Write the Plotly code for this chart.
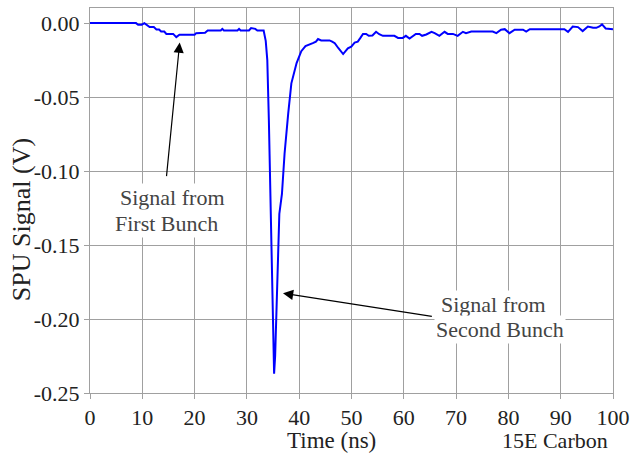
import plotly.graph_objects as go

# Time (ns)
time_ns = [0, 8.8, 9.2, 9.9, 10.4, 10.9, 11.4, 12.2, 12.7, 13.2, 13.6, 14.2, 14.6, 15.9, 16.5, 17.1,
           20.0, 20.3, 22.0, 22.5, 25.0, 25.3, 25.6, 28.2, 28.5, 28.8, 30.4, 30.8, 31.6, 32.0, 33.2,
           33.6, 33.9, 34.2, 34.5, 34.7, 35.0, 35.2, 35.4, 35.6, 35.9, 36.2, 36.7, 37.2, 37.9, 38.5,
           39.5, 40.4, 41.2, 41.7, 42.6, 43.2, 43.6, 44.2, 45.8, 46.3, 46.8, 47.5, 48.4, 49.3, 49.96,
           50.6, 51.2, 51.7, 52.2, 52.8, 53.3, 54.0, 54.7, 55.3, 56.0, 58.2, 58.9, 59.8, 60.4, 61.1,
           61.7, 62.3, 63.0, 63.5, 64.3, 65.3, 65.9, 66.8, 67.8, 68.4, 69.4, 70.3, 71.3, 71.9, 72.9,
           77.0, 77.7, 78.6, 79.3, 80.2, 81.2, 82.8, 83.4, 84.1, 90.7, 91.4, 92.3, 93.3, 94.2, 95.2,
           96.2, 96.8, 97.4, 97.9, 98.6, 100]
# SPU signal (V)
signal_v = [0, 0, -0.0011, -0.0011, 0.0, -0.0011, -0.0027, -0.0027, -0.0043, -0.0043, -0.0057, -0.0057,
            -0.0073, -0.0073, -0.0095, -0.0079,
            -0.0079, -0.0068, -0.0065, -0.0050, -0.0050, -0.0039, -0.0050, -0.0050, -0.0039, -0.0050,
            -0.0050, -0.0034, -0.0039, -0.0050, -0.0050,
            -0.012, -0.025, -0.0656, -0.111, -0.156, -0.2017, -0.2369, -0.225, -0.2017, -0.156, -0.129,
            -0.1155, -0.0883, -0.061, -0.0407,
            -0.027, -0.019, -0.0155, -0.0146, -0.0135, -0.0125, -0.0108, -0.0117, -0.0117, -0.0125,
            -0.0136, -0.017, -0.0209, -0.017, -0.0159,
            -0.0132, -0.0125, -0.0100, -0.0073, -0.0073, -0.0086, -0.0084, -0.0059, -0.0075, -0.0086,
            -0.0086, -0.0100, -0.0100, -0.0086, -0.0104,
            -0.0090, -0.0073, -0.0073, -0.0086, -0.0077, -0.0059, -0.0068, -0.0086, -0.0059, -0.0073,
            -0.0073, -0.0086, -0.0059, -0.0068, -0.0057,
            -0.0057, -0.0068, -0.0045, -0.0041, -0.0068, -0.0045, -0.0045, -0.0057, -0.0041, -0.0041,
            -0.0059, -0.0023, -0.0027, -0.0054, -0.0023,
            -0.0032, -0.0032, -0.0023, -0.0009, -0.0036, -0.0041]

x_ticks = [0, 10, 20, 30, 40, 50, 60, 70, 80, 90, 100]
y_ticks = [0.0, -0.05, -0.10, -0.15, -0.20, -0.25]
y_tick_labels = ["0.00", "-0.05", "-0.10", "-0.15", "-0.20", "-0.25"]

FONT = "Liberation Serif, Times New Roman, Times, serif"
GRID = "#a0a0a0"
TXT = "#222"

fig = go.Figure()
fig.add_trace(go.Scatter(x=time_ns, y=signal_v, mode="lines",
                         line=dict(color="#0000ff", width=2), showlegend=False,
                         hoverinfo="skip"))

axis_common = dict(showgrid=True, gridcolor=GRID, gridwidth=1, showline=True,
                   linecolor=GRID, linewidth=1, mirror=True, ticks="outside",
                   ticklen=5, tickcolor=GRID, zeroline=False, automargin=False,
                   tickfont=dict(family=FONT, size=22, color=TXT))

fig.update_xaxes(range=[0, 100], tickvals=x_ticks, **axis_common)
fig.update_yaxes(range=[-0.25, 0.0102], tickvals=y_ticks, ticktext=y_tick_labels,
                 **axis_common)

# axis titles as annotations for exact placement
fig.add_annotation(x=0.4617, y=0, xref="paper", yref="paper", yshift=-47,
                   text="Time (ns)", showarrow=False, xanchor="center", yanchor="middle",
                   font=dict(family=FONT, size=23, color=TXT))
fig.add_annotation(x=0, y=0.449, xref="paper", yref="paper", xshift=-69,
                   text="SPU Signal (V)", showarrow=False, textangle=-90,
                   xanchor="center", yanchor="middle",
                   font=dict(family=FONT, size=26, color=TXT))
fig.add_annotation(x=1.0, y=0, xref="paper", yref="paper", yshift=-47, xshift=-3,
                   text="15E Carbon", showarrow=False, xanchor="right", yanchor="middle",
                   font=dict(family=FONT, size=22, color=TXT))

def label(x, y, text):
    fig.add_annotation(x=x, y=y, xref="x", yref="y", text=text, showarrow=False,
                       font=dict(family=FONT, size=22, color="#444"), bgcolor="white",
                       borderpad=1, xanchor="center", yanchor="middle")

def arrow(x, y, ax, ay):
    fig.add_annotation(x=x, y=y, ax=ax, ay=ay, xref="x", yref="y", axref="x", ayref="y",
                       text="", showarrow=True, arrowhead=2, arrowsize=1.7, arrowwidth=1.2,
                       arrowcolor="black", standoff=0, startstandoff=0)

arrow(17.15, -0.0132, 14.6, -0.1044)
arrow(36.9, -0.1826, 65.65, -0.1984)
label(15.7, -0.1182, "Signal from")
label(14.6, -0.1352, "First Bunch")
label(77.1, -0.1903, "Signal from")
label(78.3, -0.2068, "Second Bunch")

fig.update_layout(width=630, height=454, margin=dict(l=90, r=17, t=8, b=61),
                  paper_bgcolor="white", plot_bgcolor="white")

fig.write_html("out.html")
